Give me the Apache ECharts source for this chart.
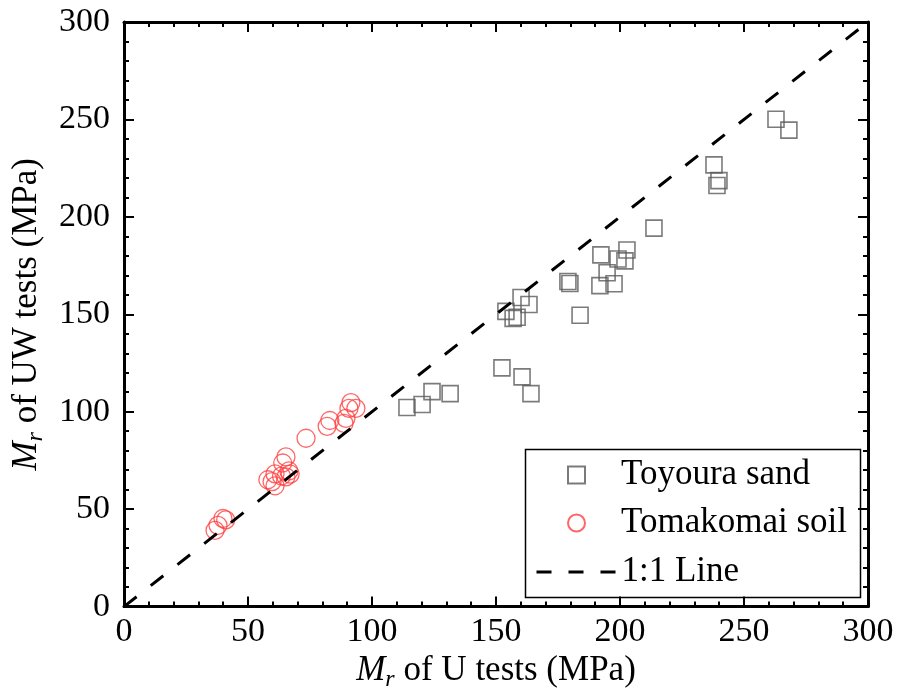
<!DOCTYPE html>
<html>
<head>
<meta charset="utf-8">
<script src="https://cdn.jsdelivr.net/npm/echarts@6/dist/echarts.min.js"></script>
<style>
  html, body { margin: 0; padding: 0; background: #fff; }
  #chart { width: 903px; height: 697px; }
</style>
</head>
<body>
<div id="chart"></div>
<script>
// Mr of U tests vs Mr of UW tests

const FONT = '"Liberation Serif", "Times New Roman", serif';

// Toyoura sand (U tests, UW tests)
const toyouraU  = [114.1, 120.2, 124.2, 131.5, 152.4, 160.5, 164.1,
                   154.0, 160.1, 156.9, 158.5, 163.3,
                   179.0, 179.8, 183.9,
                   192.3, 202.8, 199.2, 202.0, 194.8, 191.9, 197.6, 213.7,
                   237.9, 239.9, 239.1, 262.9, 268.1];
const toyouraUW = [102.2, 103.7, 110.3, 109.3, 122.5, 117.9, 109.3,
                   151.5, 158.6, 147.9, 148.5, 155.0,
                   166.8, 165.8, 149.5,
                   180.5, 183.0, 178.4, 177.4, 171.3, 164.7, 165.7, 194.2,
                   226.7, 218.6, 216.1, 250.1, 244.5];

// Tomakomai soil
const tomakomaiU  = [36.7, 37.9, 39.9, 41.0,
                     58.0, 59.7, 60.9, 60.9, 64.0, 65.3, 66.5, 65.3, 63.5, 67.0,
                     73.4, 81.9, 83.0, 88.7, 89.5, 90.7, 91.5, 93.5];
const tomakomaiUW = [39.1, 41.7, 45.2, 44.5,
                     65.1, 64.1, 68.1, 62.0, 73.7, 76.8, 69.6, 66.6, 67.0, 68.0,
                     86.4, 92.5, 95.5, 94.0, 96.6, 101.7, 104.7, 101.7];

// 1:1 line
const lineX = [0, 300];
const lineY = [0, 300];

const axisMin = 0;
const axisMax = 300;
const axisStep = 50;

function pairs(xs, ys) {
    let out = [];
    for (let i = 0; i < xs.length; i++) {
        out.push([xs[i], ys[i]]);
    }
    return out;
}

const chart = echarts.init(document.getElementById('chart'));

// axis with inward ticks, used for all four sides
function frameAxis(extra) {
    return Object.assign({
        type: 'value',
        min: axisMin,
        max: axisMax,
        interval: axisStep,
        axisLine: { show: true, onZero: false, lineStyle: { color: '#000', width: 3 } },
        axisTick: { show: true, inside: true, length: 10, lineStyle: { color: '#000', width: 2 } },
        minorTick: { show: true, splitNumber: 5, length: 5, lineStyle: { color: '#000', width: 2 } },
        splitLine: { show: false },
        axisLabel: { show: false }
    }, extra);
}

const labelStyle = { show: true, color: '#000', fontFamily: FONT, fontSize: 34 };

const nameRich = {
    i: { fontFamily: FONT, fontSize: 35, fontStyle: 'italic', color: '#000' },
    s: { fontFamily: FONT, fontSize: 24, fontStyle: 'italic', color: '#000', padding: [18, 0, 0, 0] }
};

const options = {
    animation: false,
    backgroundColor: '#fff',
    grid: { left: 124, right: 35, top: 22, bottom: 85, containLabel: false },
    legend: [
        {
            data: ['Toyoura sand', 'Tomakomai soil'],
            orient: 'vertical',
            left: 562,
            top: 450,
            itemWidth: 17,
            itemHeight: 17,
            itemGap: 8,
            selectedMode: false,
            formatter: function (name) { return '{t|' + name + '}'; },
            textStyle: {
                color: '#000', fontFamily: FONT, fontSize: 35, lineHeight: 40,
                rich: { t: { fontFamily: FONT, fontSize: 35, lineHeight: 40, padding: [0, 0, 0, 31] } }
            }
        },
        {
            data: ['1:1 Line'],
            orient: 'vertical',
            left: 530,
            top: 547,
            itemWidth: 80,
            itemHeight: 16,
            selectedMode: false,
            formatter: function (name) { return '{t|' + name + '}'; },
            itemStyle: { color: 'rgba(0,0,0,0)', borderWidth: 0, opacity: 0 },
            lineStyle: { type: [15, 17], width: 3, color: '#000' },
            textStyle: {
                color: '#000', fontFamily: FONT, fontSize: 35, lineHeight: 40,
                rich: { t: { fontFamily: FONT, fontSize: 35, lineHeight: 40, padding: [0, 0, 0, 0] } }
            }
        }
    ],
    graphic: [
        {
            // legend frame
            type: 'rect',
            left: 523,
            top: 447,
            shape: { width: 335, height: 148 },
            style: { fill: 'none', stroke: '#000', lineWidth: 1.5 },
            z: 10
        }
    ],
    xAxis: [
        frameAxis({
            position: 'bottom',
            axisLabel: Object.assign({ margin: 8 }, labelStyle),
            name: '{i|M}{s|r} of U tests (MPa)',
            nameLocation: 'middle',
            nameGap: 42,
            nameTextStyle: { color: '#000', fontFamily: FONT, fontSize: 35, rich: nameRich }
        }),
        frameAxis({ position: 'top' })
    ],
    yAxis: [
        frameAxis({
            position: 'left',
            axisLabel: Object.assign({ margin: 14 }, labelStyle),
            name: '{i|M}{s|r} of UW tests (MPa)',
            nameLocation: 'middle',
            nameRotate: 90,
            nameGap: 66,
            nameTextStyle: { color: '#000', fontFamily: FONT, fontSize: 35, rich: nameRich }
        }),
        frameAxis({ position: 'right' })
    ],
    series: [
        {
            name: 'Toyoura sand',
            type: 'scatter',
            symbol: 'rect',
            symbolSize: 16,
            itemStyle: { color: 'rgba(0,0,0,0)', borderColor: '#5a5a5a', borderWidth: 1.6 },
            emphasis: { disabled: true },
            data: pairs(toyouraU, toyouraUW)
        },
        {
            name: 'Tomakomai soil',
            type: 'scatter',
            symbol: 'circle',
            symbolSize: 18,
            itemStyle: { color: 'rgba(0,0,0,0)', borderColor: '#ff4040', borderWidth: 1.3 },
            emphasis: { disabled: true },
            data: pairs(tomakomaiU, tomakomaiUW)
        },
        {
            name: '1:1 Line',
            type: 'line',
            symbol: 'none',
            lineStyle: { color: '#000', width: 3, type: [16, 18] },
            itemStyle: { color: '#000' },
            z: 5,
            data: pairs(lineX, lineY)
        }
    ]
};

chart.setOption(options);
</script>
</body>
</html>
